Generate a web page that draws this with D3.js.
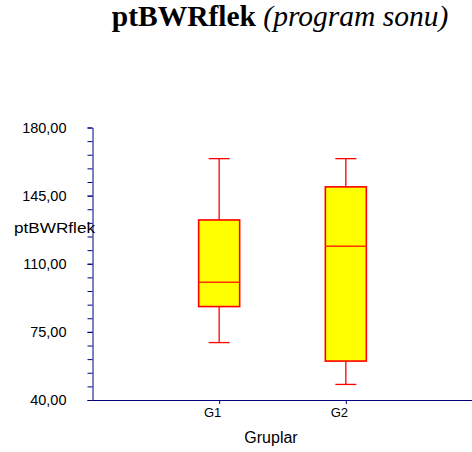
<!DOCTYPE html>
<html>
<head>
<meta charset="utf-8">
<script src="https://cdn.jsdelivr.net/npm/d3@7"></script>
<style>
  html, body { margin: 0; padding: 0; background: #fff; }
  svg { display: block; }
</style>
</head>
<body>
<svg id="chart" width="472" height="452"></svg>
<script>
// Groups and their box-plot summaries (ptBWRflek at end of programme)
const groups = ["G1", "G2"];
const whiskerHigh = [164, 164];
const q3 = [132.5, 149.5];
const median = [100.5, 119];
const q1 = [88, 60];
const whiskerLow = [69.5, 48];

// Axis tick values
const yMajorTicks = [40, 75, 110, 145, 180];
const yMinorTicks = d3.range(40, 180.001, 7);

const svg = d3.select("#chart");
const axisColor = "#000080";

const x = d3.scaleLinear().domain([0, 3]).range([92.5, 472.5]);
const y = d3.scaleLinear().domain([40, 180]).range([400, 127.5]);

const fmt = d3.formatLocale({ decimal: ",", thousands: ".", grouping: [3], currency: ["", ""] }).format(".2f");

// Title
const title = svg.append("text")
  .attr("x", 280).attr("y", 26)
  .attr("text-anchor", "middle")
  .style("font-family", "'Liberation Serif', 'Times New Roman', serif")
  .style("font-size", "29.5px");
title.append("tspan").attr("font-weight", "bold").text("ptBWRflek");
title.append("tspan").attr("font-style", "italic").text(" (program sonu)");

// Y axis: minor ticks
svg.append("g")
  .attr("transform", `translate(${x(0)},0)`)
  .call(d3.axisLeft(y).tickValues(yMinorTicks).tickSize(5).tickFormat(""))
  .call(g => g.select(".domain").remove())
  .call(g => g.selectAll("line").attr("stroke", axisColor));

// Y axis: major ticks and labels
svg.append("g")
  .attr("transform", `translate(${x(0)},0)`)
  .call(d3.axisLeft(y).tickValues(yMajorTicks).tickSize(5).tickSizeOuter(0).tickPadding(21).tickFormat(fmt))
  .call(g => g.select(".domain").attr("stroke", axisColor))
  .call(g => g.selectAll("line").attr("stroke", axisColor))
  .call(g => g.selectAll("text")
    .attr("fill", "#000")
    .style("font-family", "'Liberation Sans', Arial, sans-serif")
    .style("font-size", "14.5px"));

// X axis
svg.append("g")
  .attr("transform", `translate(0,${y(40)})`)
  .call(d3.axisBottom(x).tickValues([1, 2]).tickSize(4).tickSizeOuter(0).tickPadding(4)
    .tickFormat(d => groups[d - 1]))
  .call(g => g.select(".domain").attr("stroke", axisColor))
  .call(g => g.selectAll("line").attr("stroke", axisColor))
  .call(g => g.selectAll("text")
    .attr("dx", -7)
    .attr("fill", "#000")
    .style("font-family", "'Liberation Sans', Arial, sans-serif")
    .style("font-size", "13px"));

// Axis titles
svg.append("text")
  .attr("x", 271).attr("y", 443)
  .attr("text-anchor", "middle")
  .style("font-family", "'Liberation Sans', Arial, sans-serif")
  .style("font-size", "16px")
  .text("Gruplar");

svg.append("text")
  .attr("x", 14).attr("y", 233)
  .attr("textLength", 81).attr("lengthAdjust", "spacingAndGlyphs")
  .style("font-family", "'Liberation Sans', Arial, sans-serif")
  .style("font-size", "14px")
  .text("ptBWRflek");

// Box plots
const boxW = 41, capW = 21;
const data = groups.map((g, i) => ({
  g, cx: x(i + 1), hi: whiskerHigh[i], q3: q3[i], med: median[i], q1: q1[i], lo: whiskerLow[i]
}));

const box = svg.append("g").selectAll("g").data(data).join("g");

box.append("line")
  .attr("x1", d => d.cx).attr("x2", d => d.cx)
  .attr("y1", d => y(d.hi)).attr("y2", d => y(d.q3))
  .attr("stroke", "#ff0000").attr("stroke-width", 1.3);
box.append("line")
  .attr("x1", d => d.cx).attr("x2", d => d.cx)
  .attr("y1", d => y(d.q1)).attr("y2", d => y(d.lo))
  .attr("stroke", "#ff0000").attr("stroke-width", 1.3);
box.append("line")
  .attr("x1", d => d.cx - capW / 2).attr("x2", d => d.cx + capW / 2)
  .attr("y1", d => y(d.hi)).attr("y2", d => y(d.hi))
  .attr("stroke", "#ff0000").attr("stroke-width", 1.3);
box.append("line")
  .attr("x1", d => d.cx - capW / 2).attr("x2", d => d.cx + capW / 2)
  .attr("y1", d => y(d.lo)).attr("y2", d => y(d.lo))
  .attr("stroke", "#ff0000").attr("stroke-width", 1.3);
box.append("rect")
  .attr("x", d => d.cx - boxW / 2).attr("width", boxW)
  .attr("y", d => y(d.q3)).attr("height", d => y(d.q1) - y(d.q3))
  .attr("fill", "#ffff00").attr("stroke", "#ff0000").attr("stroke-width", 1.6);
box.append("line")
  .attr("x1", d => d.cx - boxW / 2).attr("x2", d => d.cx + boxW / 2)
  .attr("y1", d => y(d.med)).attr("y2", d => y(d.med))
  .attr("stroke", "#ff3300").attr("stroke-width", 1.6);
</script>
</body>
</html>
